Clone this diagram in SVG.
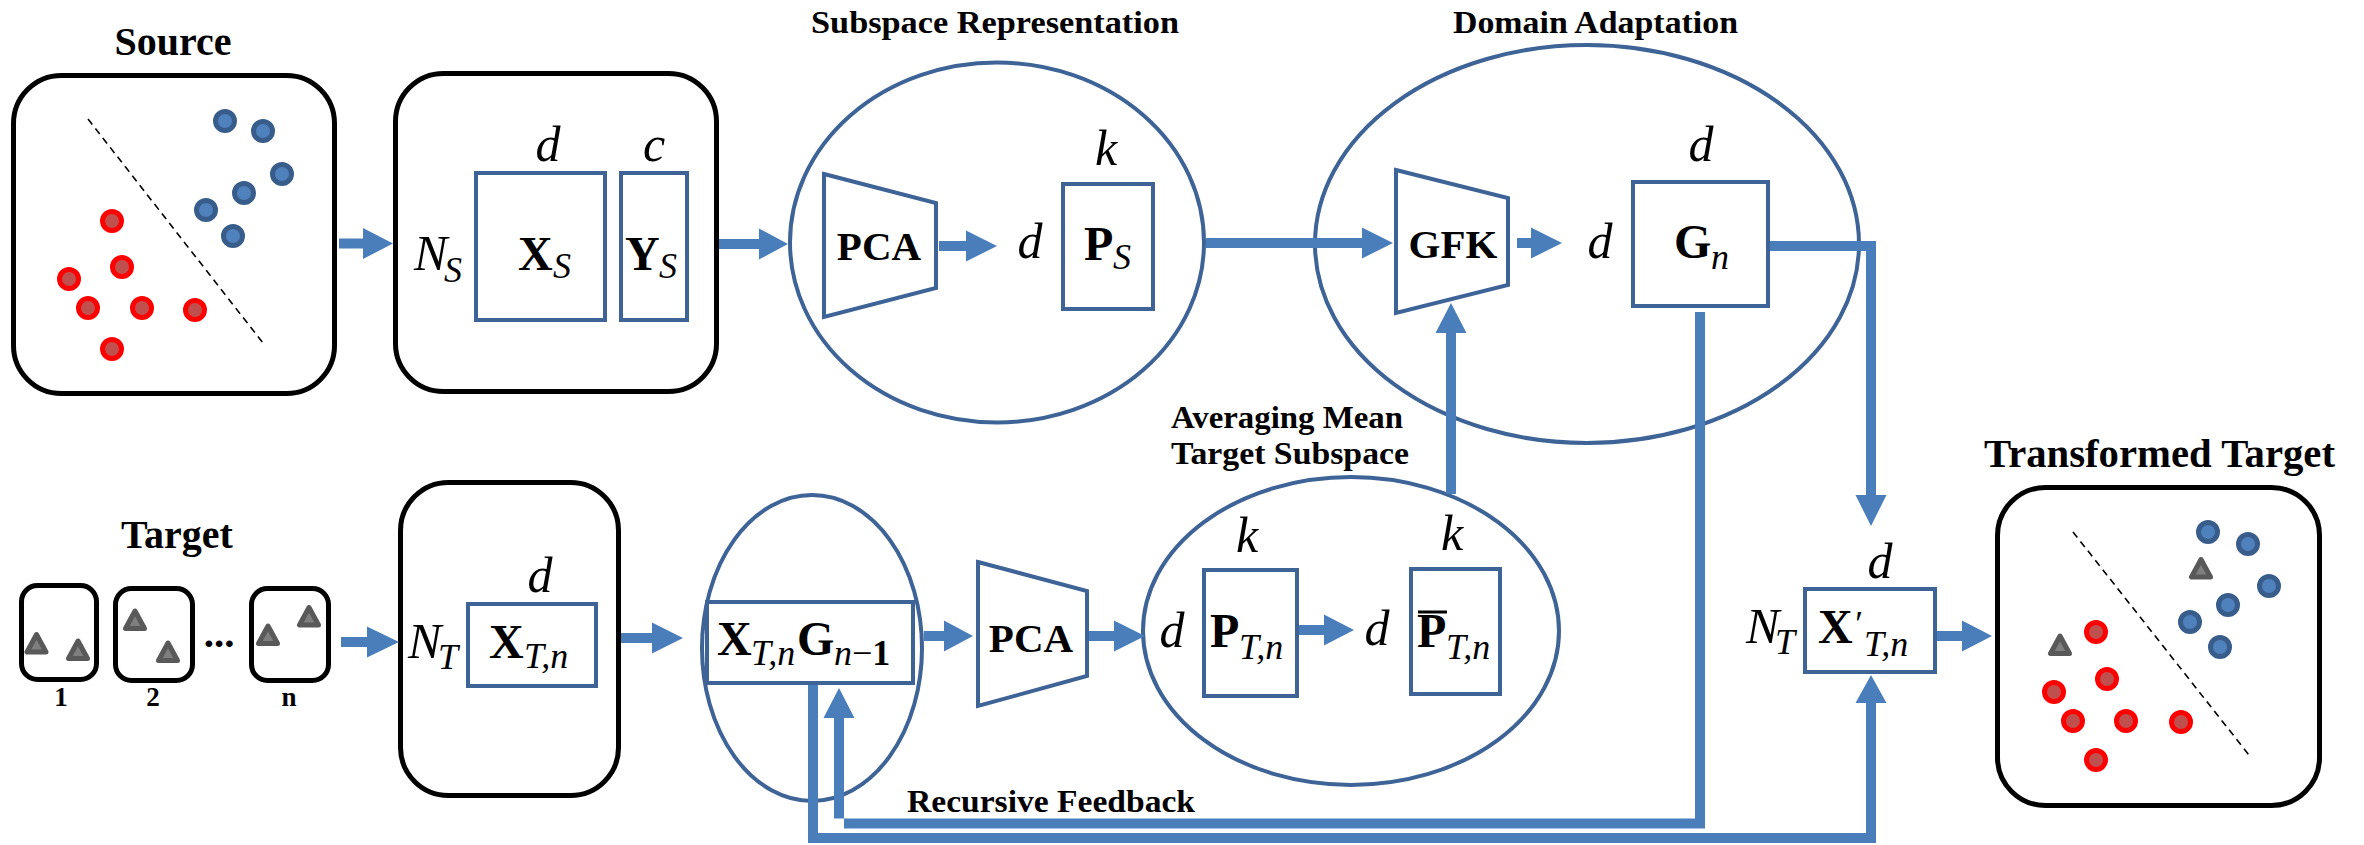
<svg xmlns="http://www.w3.org/2000/svg" width="2364" height="845" viewBox="0 0 2364 845">
<style>
.blk{fill:#fff;stroke:#000;stroke-width:5}
.bx{fill:#fff;stroke:#3E6396;stroke-width:4}
.ell{fill:none;stroke:#3E6396;stroke-width:4}
.con{fill:#4A7EBB;stroke:none}
.dash{stroke:#000;stroke-width:1.6;stroke-dasharray:7,5;fill:none}
.bd{fill:#4F81BD;stroke:#385D8A;stroke-width:5}
.rd{fill:#C0504D;stroke:#FF0000;stroke-width:5}
.ttl{font-family:"Liberation Serif",serif;font-weight:bold;font-size:40px;fill:#000}
.lbl{font-family:"Liberation Serif",serif;font-weight:bold;font-size:31px;fill:#000}
.num{font-family:"Liberation Serif",serif;font-weight:bold;font-size:27px;fill:#000;text-anchor:middle}
.op{font-family:"Liberation Serif",serif;font-weight:bold;font-size:41px;fill:#000;text-anchor:middle}
.mi{font-family:"Liberation Serif",serif;font-style:italic;font-size:50px;fill:#000}
.mc{text-anchor:middle}
.mb{font-family:"Liberation Serif",serif;font-weight:bold;font-size:48px;fill:#000}
.sub{font-family:"Liberation Serif",serif;font-style:italic;font-weight:normal;font-size:36px;fill:#000}
</style>
<defs>
<polygon id="tri" points="0,-9 -9.5,8.5 9.5,8.5" fill="#7F7F7F" stroke="#595959" stroke-width="5" stroke-linejoin="round"/>
</defs>

<g id="subspace-representation">
<ellipse class="ell" cx="997" cy="242.5" rx="207" ry="180"/>
<text class="lbl" x="811" y="33" textLength="368" lengthAdjust="spacingAndGlyphs">Subspace Representation</text>
<polygon class="bx" points="824,174 936,203 936,288 824,317"/>
<text class="op" x="879" y="260">PCA</text>
<text class="mi mc" x="1030" y="258">d</text>
<text class="mi mc" x="1106" y="165">k</text>
<rect class="bx" x="1063" y="184" width="90" height="125"/>
<text class="mb" x="1084" y="260">P</text><text class="sub" x="1113" y="269">S</text>
</g>

<g id="domain-adaptation">
<ellipse class="ell" cx="1587" cy="244" rx="272" ry="199"/>
<text class="lbl" x="1453" y="33" textLength="285" lengthAdjust="spacingAndGlyphs">Domain Adaptation</text>
<polygon class="bx" points="1396,170 1508,198 1508,285 1396,313"/>
<text class="op" x="1453" y="258">GFK</text>
<text class="mi mc" x="1600" y="258">d</text>
<text class="mi mc" x="1701" y="161">d</text>
<rect class="bx" x="1633" y="182" width="135" height="124"/>
<text class="mb" x="1674" y="258">G</text><text class="sub" x="1711" y="269">n</text>
</g>

<g id="source">
<text class="ttl" x="173" y="55" text-anchor="middle">Source</text>
<rect class="blk" x="13.5" y="75.5" width="321" height="318" rx="48"/>
<line class="dash" x1="88" y1="119" x2="263" y2="343"/>
<circle class="bd" cx="225" cy="121" r="9.5"/>
<circle class="bd" cx="263" cy="131" r="9.5"/>
<circle class="bd" cx="282" cy="174" r="9.5"/>
<circle class="bd" cx="244" cy="193" r="9.5"/>
<circle class="bd" cx="206" cy="210" r="9.5"/>
<circle class="bd" cx="233" cy="236" r="9.5"/>
<circle class="rd" cx="112" cy="221" r="9.5"/>
<circle class="rd" cx="122" cy="267" r="9.5"/>
<circle class="rd" cx="69" cy="279" r="9.5"/>
<circle class="rd" cx="88" cy="308" r="9.5"/>
<circle class="rd" cx="142" cy="308" r="9.5"/>
<circle class="rd" cx="195" cy="310" r="9.5"/>
<circle class="rd" cx="112" cy="349" r="9.5"/>
</g>

<g id="source-data">
<rect class="blk" x="395.5" y="73.5" width="321" height="318" rx="48"/>
<text class="mi mc" x="548" y="161">d</text>
<text class="mi mc" x="654" y="161">c</text>
<rect class="bx" x="476" y="173" width="129" height="147"/>
<rect class="bx" x="621" y="173" width="66" height="147"/>
<text class="mi" x="414" y="270">N</text><text class="sub" x="444" y="282">S</text>
<text class="mb" x="518" y="270">X</text><text class="sub" x="553" y="278">S</text>
<text class="mb" x="625" y="270">Y</text><text class="sub" x="659" y="278">S</text>
</g>

<g id="target">
<text class="ttl" x="177" y="548" text-anchor="middle">Target</text>
<rect class="blk" x="21.5" y="585.5" width="75" height="94" rx="16"/>
<rect class="blk" x="115.5" y="588.5" width="77" height="92" rx="16"/>
<rect class="blk" x="251.5" y="588.5" width="77" height="92" rx="16"/>
<use href="#tri" x="36.5" y="643.5"/>
<use href="#tri" x="78" y="650"/>
<use href="#tri" x="135" y="620"/>
<use href="#tri" x="168" y="652"/>
<use href="#tri" x="268" y="635"/>
<use href="#tri" x="309" y="616.5"/>
<text class="op" x="219" y="647" font-size="46px">...</text>
<text class="num" x="61" y="706">1</text>
<text class="num" x="153" y="706">2</text>
<text class="num" x="289" y="706">n</text>
</g>

<g id="target-data">
<rect class="blk" x="400.5" y="482.5" width="218" height="313" rx="48"/>
<text class="mi mc" x="540" y="592">d</text>
<rect class="bx" x="468" y="604" width="128" height="82"/>
<text class="mi" x="408" y="658">N</text><text class="sub" x="438" y="669">T</text>
<text class="mb" x="489" y="658">X</text><text class="sub" x="524" y="668">T,n</text>
</g>

<g id="recursive-input">
<ellipse class="ell" cx="812" cy="648" rx="110" ry="153"/>
<rect class="bx" x="707" y="602" width="206" height="81"/>
<text class="mb" x="717" y="655">X</text><text class="sub" x="751" y="665">T,n</text>
<text class="mb" x="797" y="655">G</text><text class="sub" x="834" y="665">n<tspan font-style="normal">−</tspan><tspan font-style="normal" font-weight="bold">1</tspan></text>
</g>

<g id="pca-target">
<polygon class="bx" points="978,562 1087,591 1087,676 978,706"/>
<text class="op" x="1031" y="652">PCA</text>
</g>

<g id="averaging-mean-target-subspace">
<text class="lbl" x="1171" y="428" textLength="232" lengthAdjust="spacingAndGlyphs">Averaging Mean</text>
<text class="lbl" x="1171" y="464" textLength="238" lengthAdjust="spacingAndGlyphs">Target Subspace</text>
<ellipse class="ell" cx="1351" cy="631" rx="208" ry="154"/>
<text class="mi mc" x="1172" y="647">d</text>
<text class="mi mc" x="1247" y="552">k</text>
<rect class="bx" x="1204" y="570" width="93" height="126"/>
<text class="mb" x="1210" y="647">P</text><text class="sub" x="1239" y="659">T,n</text>
<text class="mi mc" x="1377" y="645">d</text>
<text class="mi mc" x="1452" y="550">k</text>
<rect class="bx" x="1411" y="569" width="89" height="125"/>
<line x1="1418" y1="612" x2="1447" y2="612" stroke="#000" stroke-width="3"/>
<text class="mb" x="1417" y="647">P</text><text class="sub" x="1446" y="659">T,n</text>
</g>

<g id="transformed-data">
<text class="mi mc" x="1880" y="578">d</text>
<rect class="bx" x="1805" y="589" width="130" height="83"/>
<text class="mi" x="1746" y="643">N</text><text class="sub" x="1775" y="654">T</text>
<text class="mb" x="1818" y="643">X</text><text class="sub" x="1853" y="636" font-style="normal" font-size="44px">′</text><text class="sub" x="1864" y="656">T,n</text>
</g>

<g id="transformed-target">
<text class="ttl" x="1984" y="467" textLength="351" lengthAdjust="spacingAndGlyphs">Transformed Target</text>
<rect class="blk" x="1997.5" y="487.5" width="322" height="318" rx="48"/>
<line class="dash" x1="2073" y1="532" x2="2249" y2="755"/>
<circle class="bd" cx="2208" cy="532" r="9.5"/>
<circle class="bd" cx="2248" cy="544" r="9.5"/>
<circle class="bd" cx="2269" cy="586" r="9.5"/>
<circle class="bd" cx="2228" cy="605" r="9.5"/>
<circle class="bd" cx="2190" cy="622" r="9.5"/>
<circle class="bd" cx="2220" cy="647" r="9.5"/>
<circle class="rd" cx="2096" cy="632" r="9.5"/>
<circle class="rd" cx="2107" cy="679" r="9.5"/>
<circle class="rd" cx="2054" cy="692" r="9.5"/>
<circle class="rd" cx="2073" cy="721" r="9.5"/>
<circle class="rd" cx="2126" cy="721" r="9.5"/>
<circle class="rd" cx="2181" cy="722" r="9.5"/>
<circle class="rd" cx="2096" cy="760" r="9.5"/>
<use href="#tri" x="2201" y="568.5"/>
<use href="#tri" x="2060" y="645"/>
</g>

<g id="connectors">
<polygon class="con" points="339,238.5 363,238.5 363,228 393,243.5 363,259 363,248.5 339,248.5"/>
<polygon class="con" points="719,239 759,239 759,228.5 788,244 759,259.5 759,249 719,249"/>
<polygon class="con" points="939,241 966,241 966,230.5 997,246 966,261.5 966,251 939,251"/>
<polygon class="con" points="1206,238 1362,238 1362,227.5 1393,243 1362,258.5 1362,248 1206,248"/>
<polygon class="con" points="1517,238 1531,238 1531,227.5 1562,243 1531,258.5 1531,248 1517,248"/>
<polygon class="con" points="1446,494 1446,333 1435.5,333 1451,303 1466.5,333 1456,333 1456,494"/>
<polygon class="con" points="1770,241 1876,241 1876,495 1886.5,495 1871,526 1855.5,495 1866,495 1866,251 1770,251"/>
<polygon class="con" points="1695,312 1705,312 1705,828.5 844,828.5 844,718 854.5,718 839,688 823.5,718 834,718 834,818.5 1695,818.5"/>
<polygon class="con" points="808,685 818,685 818,833 1866,833 1866,703 1855.5,703 1871,675 1886.5,703 1876,703 1876,843 808,843"/>
<polygon class="con" points="341,637 367,637 367,626.5 399,642 367,657.5 367,647 341,647"/>
<polygon class="con" points="621,633 652,633 652,622.5 683,638 652,653.5 652,643 621,643"/>
<polygon class="con" points="924,631 944,631 944,620.5 973,636 944,651.5 944,641 924,641"/>
<polygon class="con" points="1089,631 1114,631 1114,620.5 1145,636 1114,651.5 1114,641 1089,641"/>
<polygon class="con" points="1299,625 1324,625 1324,614.5 1354,630 1324,645.5 1324,635 1299,635"/>
<polygon class="con" points="1937,631 1962,631 1962,620.5 1992,636 1962,651.5 1962,641 1937,641"/>
<text class="lbl" x="907" y="812" textLength="288" lengthAdjust="spacingAndGlyphs">Recursive Feedback</text>
</g>
</svg>
